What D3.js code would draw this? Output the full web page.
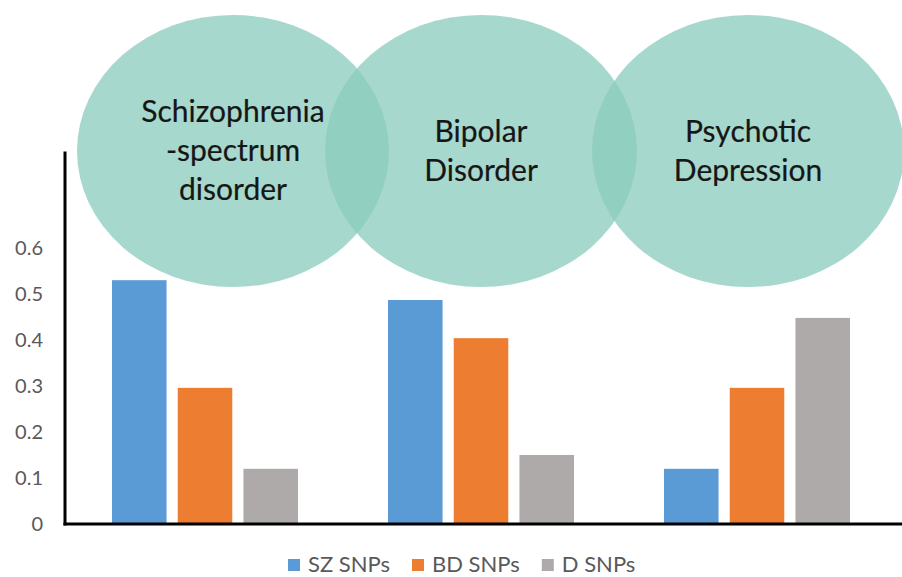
<!DOCTYPE html>
<html>
<head>
<meta charset="utf-8">
<script src="https://cdn.jsdelivr.net/npm/d3@7"></script>
<style>
  body { margin: 0; background: #fff; }
  text { font-family: Lato, "Open Sans", sans-serif; }
</style>
</head>
<body>
<div id="chart"></div>
<script>
// data
var categories = ["Schizophrenia-spectrum disorder", "Bipolar Disorder", "Psychotic Depression"];
var series = ["SZ SNPs", "BD SNPs", "D SNPs"];
var szValues = [0.53, 0.487, 0.12];
var bdValues = [0.296, 0.404, 0.296];
var dValues = [0.12, 0.15, 0.448];
var yTicks = [0, 0.1, 0.2, 0.3, 0.4, 0.5, 0.6];
// circle labels (one array of lines per category)
var circleLabels = [["Schizophrenia", "-spectrum", "disorder"], ["Bipolar", "Disorder"], ["Psychotic", "Depression"]];

var colors = ["#5b9bd5", "#ed7d31", "#adaaa9"];

var svgW = 902;
var svgH = 577;

var svg = d3.select("#chart")
  .append("svg")
  .attr("width", svgW)
  .attr("height", svgH);

var rows = categories.map((c, i) => ({ cat: c, vals: [szValues[i], bdValues[i], dValues[i]] }));

// scales
var x0 = d3.scaleBand()
  .domain(categories)
  .range([67, 895])
  .paddingInner(0.326)
  .paddingOuter(0.163);

var x1 = d3.scaleBand()
  .domain(series)
  .range([0, x0.bandwidth()])
  .paddingInner(0.17)
  .paddingOuter(0);

var y = d3.scaleLinear()
  .domain([0, 0.8])
  .range([524, 156]);

// y tick labels (no tick marks)
var leftAxis = d3.axisLeft(y)
  .tickValues(yTicks)
  .tickFormat(d => d === 0 ? "0" : d3.format(".1f")(d))
  .tickSize(0)
  .tickPadding(22);

var yAxisG = svg.append("g")
  .attr("transform", "translate(65,0)")
  .call(leftAxis);
yAxisG.select(".domain").remove();
yAxisG.selectAll("text")
  .attr("font-family", "Lato, sans-serif")
  .attr("font-size", "20px")
  .attr("fill", "#595959");

// bars
var groups = svg.selectAll("g.grp")
  .data(rows)
  .enter()
  .append("g")
  .attr("class", "grp")
  .attr("transform", d => `translate(${x0(d.cat)},0)`);

groups.selectAll("rect")
  .data(d => d.vals.map((v, j) => ({ s: series[j], v: v, j: j })))
  .enter()
  .append("rect")
  .attr("x", d => x1(d.s))
  .attr("y", d => y(d.v))
  .attr("width", x1.bandwidth())
  .attr("height", d => y(0) - y(d.v))
  .attr("fill", d => colors[d.j]);

// ellipses over the chart
var circleShift = [28, 0, -9];
var ell = svg.append("g");
ell.selectAll("ellipse")
  .data(categories)
  .enter()
  .append("ellipse")
  .attr("cx", (d, i) => x0(d) + x0.bandwidth() / 2 + circleShift[i])
  .attr("cy", 151)
  .attr("rx", 156)
  .attr("ry", 136)
  .attr("fill", "rgb(138,204,189)")
  .attr("fill-opacity", 0.76);

ell.selectAll("text.lbl")
  .data(categories)
  .enter()
  .append("text")
  .attr("class", "lbl")
  .attr("text-anchor", "middle")
  .attr("font-size", "30px")
  .attr("fill", "#161616")
  .attr("stroke", "#161616")
  .attr("stroke-width", 0.2)
  .each(function (d, i) {
    var lines = circleLabels[i];
    var cx = x0(d) + x0.bandwidth() / 2 + circleShift[i];
    var lh = 39;
    var firstY = 150 - (lines.length - 1) * lh / 2 + 11;
    d3.select(this).selectAll("tspan")
      .data(lines)
      .enter()
      .append("tspan")
      .attr("x", cx)
      .attr("y", (t, k) => firstY + k * lh)
      .text(t => t);
  });

// axis lines
svg.append("line")
  .attr("x1", 65).attr("x2", 65)
  .attr("y1", y(0.81)).attr("y2", y(0) + 1.5)
  .attr("stroke", "#000")
  .attr("stroke-width", 3);

svg.append("line")
  .attr("x1", 63.5).attr("x2", svgW)
  .attr("y1", y(0)).attr("y2", y(0))
  .attr("stroke", "#000")
  .attr("stroke-width", 3);

// legend
var legend = svg.append("g");
var lx = 288;
series.forEach(function (s, i) {
  var item = legend.append("g").attr("transform", `translate(${lx},0)`);
  item.append("rect")
    .attr("x", 0).attr("y", 559)
    .attr("width", 12).attr("height", 12)
    .attr("fill", colors[i]);
  var t = item.append("text")
    .attr("x", 20).attr("y", 572)
    .attr("font-size", "22px")
    .attr("fill", "#595959")
    .text(s);
  lx += 20 + t.node().getComputedTextLength() + 22;
});
</script>
</body>
</html>
